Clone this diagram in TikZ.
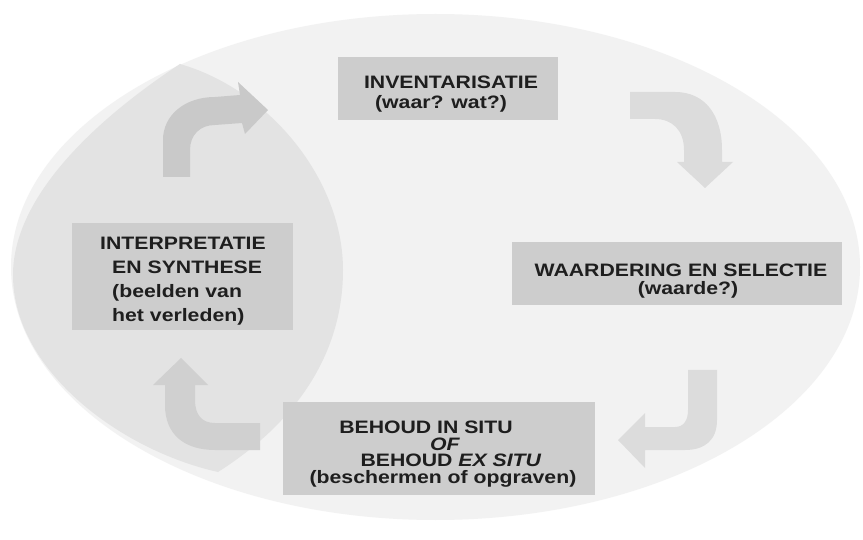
\documentclass[tikz,border=0pt]{standalone}
\usepackage{fontspec}
\newfontfamily\lbl[FakeStretch=1.18]{Liberation Sans}
\definecolor{ellc}{HTML}{F2F2F2}
\definecolor{leafc}{HTML}{E3E3E3}
\definecolor{boxc}{HTML}{CDCDCD}
\definecolor{arrA}{HTML}{C9C9C9}
\definecolor{arrD}{HTML}{D0D0D0}
\definecolor{arrR}{HTML}{DCDCDC}
\definecolor{txtc}{HTML}{1E1E1E}
\begin{document}
\begin{tikzpicture}[x=1pt,y=-1pt,
  box/.style={fill=boxc, draw=none, inner sep=0pt},
  txt/.style={inner sep=0pt, text=txtc}]
\useasboundingbox (0,0) rectangle (863,540);
\fill[white] (0,0) rectangle (863,540);
% background ellipse and left leaf
\fill[ellc] (435.5,267) ellipse [x radius=424.5pt, y radius=253pt];
\fill[leafc] (180,64) .. controls (110,110) and (13,190) .. (13,275)
  .. controls (13,370) and (120,450) .. (218,472)
  .. controls (300,420) and (343,350) .. (343,270)
  .. controls (343,180) and (270,90) .. (180,64) -- cycle;
% boxes
\node[box, minimum width=220pt, minimum height=63pt] (inv) at (448,88.5) {};
\node[box, minimum width=330pt, minimum height=63pt] (waa) at (677,273.5) {};
\node[box, minimum width=312pt, minimum height=93pt] (beh) at (439,448.5) {};
\node[box, minimum width=221pt, minimum height=107pt] (int) at (182.5,276.5) {};
% texts
\node[txt, align=center, font=\lbl\bfseries\fontsize{18}{20}\selectfont] (tinv) at (451,94)
  {INVENTARISATIE\\(waar? wat?)\hspace*{20pt}};
\node[txt, align=center, font=\lbl\bfseries\fontsize{18}{18}\selectfont] (twaa) at (681,281)
  {WAARDERING EN SELECTIE\\\hspace*{14pt}(waarde?)};
\node[txt, align=center, font=\lbl\bfseries\fontsize{18}{16.7}\selectfont] (tbeh) at (443,454)
  {BEHOUD IN SITU\hspace*{34pt}\\\hspace*{4pt}\textit{OF}\\\hspace*{16pt}BEHOUD \textit{EX SITU}\\(beschermen of opgraven)};
\node[txt, align=left, anchor=north west, font=\lbl\bfseries\fontsize{18}{24}\selectfont] (tint) at (100,236.6)
  {INTERPRETATIE\\\hspace*{12pt}EN SYNTHESE\\\hspace*{12pt}(beelden van\\\hspace*{12pt}het verleden)};
% arrows
\fill[arrA] (163,177) -- (163,140) .. controls (163,115) and (185,97) .. (215,97)
  -- (240,95) -- (238,82) -- (268,110) -- (245,134) -- (242,123) -- (215,125)
  .. controls (200,125) and (190,135) .. (190,150) -- (190,177) -- cycle;
\fill[arrR] (630,92) -- (675,92) .. controls (705,92) and (722,115) .. (722,150)
  -- (722,162) -- (733,162) -- (705,188) -- (677,162) -- (684,162) -- (684,150)
  .. controls (684,130) and (672,119) .. (655,119) -- (630,119) -- cycle;
\fill[arrR] (688,370) -- (717,370) -- (717,420) .. controls (717,440) and (705,450) .. (685,450)
  -- (645,450) -- (645,468) -- (618,440) -- (645,413) -- (645,427) -- (675,427)
  .. controls (684,427) and (688,420) .. (688,410) -- cycle;
\fill[arrD] (260,423) -- (215,423) .. controls (202,423) and (195,415) .. (195,400)
  -- (195,385) -- (208,385) -- (181,358) -- (153,385) -- (165,385) -- (165,405)
  .. controls (165,435) and (185,450) .. (215,450) -- (260,450) -- cycle;
\end{tikzpicture}
\end{document}
